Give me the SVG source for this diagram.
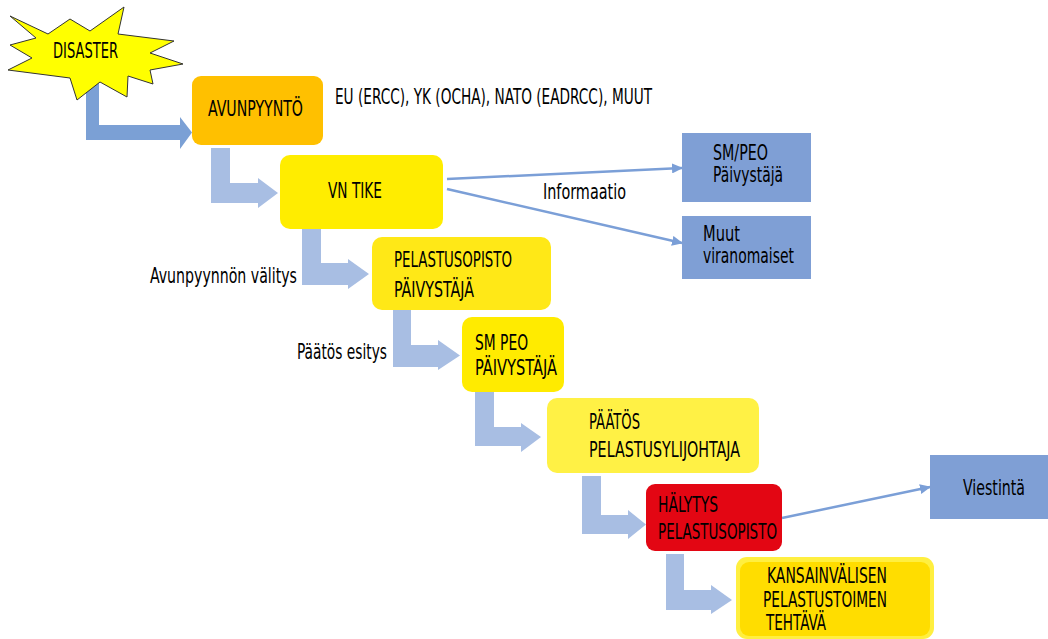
<svg xmlns="http://www.w3.org/2000/svg" width="1048" height="639" viewBox="0 0 1048 639">
<defs>
<style>
text{font-family:"Liberation Sans Narrow","DejaVu Sans Condensed","Liberation Sans",sans-serif;font-size:21px;fill:#000;}
.bl{fill:#7F9FD5;}
.ar1{fill:#7BA0D5;}
.ar{fill:#A8BEE3;}
.ln{stroke:#7B9FD7;stroke-width:2.5;fill:none;marker-end:url(#ah);}
</style>
<marker id="ah" markerUnits="userSpaceOnUse" markerWidth="11" markerHeight="10" refX="10" refY="5" orient="auto">
<path d="M0,0 L11,5 L0,10 Z" fill="#7B9FD7"/>
</marker>
</defs>
<rect width="1048" height="639" fill="#fff"/>

<g id="connectors">
<polygon class="ar1" points="86,82 99,82 99,125 180,125 180,117 192,132.5 180,149 180,140 86,140"/>
<polygon class="ar" points="211,148 230,148 230,183 258,183 258,178 278,193 258,208 258,203 211,203"/>
<polygon class="ar" points="302,229 321,229 321,263 348,263 348,259 369,274 348,289 348,285 302,285"/>
<polygon class="ar" points="393,310 411,310 411,345 438,345 438,340 460,355.5 438,370 438,367 393,367"/>
<polygon class="ar" points="475,392 494,392 494,427 521,427 521,423 541,437 521,452 521,446 475,446"/>
<polygon class="ar" points="582,476 601,476 601,515 628,515 628,510 646,524.5 628,539 628,534 582,534"/>
<polygon class="ar" points="666,554 684,554 684,590 711,590 711,585 732,600 711,614 711,610 666,610"/>
<line class="ln" x1="447" y1="179" x2="682" y2="168"/>
<line class="ln" x1="447" y1="189" x2="682" y2="243"/>
<line class="ln" x1="782" y1="518" x2="930" y2="487"/>
<text x="543" y="199" textLength="83" lengthAdjust="spacingAndGlyphs">Informaatio</text>
<text x="150" y="283" textLength="147" lengthAdjust="spacingAndGlyphs">Avunpyynnön välitys</text>
<text x="297" y="359" textLength="90" lengthAdjust="spacingAndGlyphs">Päätös esitys</text>
</g>

<g id="disaster">
<polygon points="10,16 48,34 70,19 90,31 124,7 118,34 174,41 150,53 183,64 150,70 153,84 128,76 127,97 100,82 77,100 70,78 8,70 32,58 10,45 36,38" fill="#FFFF00" stroke="#333" stroke-width="1"/>
<text x="53" y="58" textLength="65" lengthAdjust="spacingAndGlyphs">DISASTER</text>
</g>

<g id="avunpyynto">
<rect x="192" y="76" width="131" height="69" rx="9" fill="#FFC000"/>
<text x="208" y="116" textLength="95" lengthAdjust="spacingAndGlyphs">AVUNPYYNTÖ</text>
</g>

<g id="eu-label">
<text x="335" y="104" textLength="317" lengthAdjust="spacingAndGlyphs">EU (ERCC), YK (OCHA), NATO (EADRCC), MUUT</text>
</g>

<g id="vntike">
<rect x="280" y="155" width="163" height="74" rx="10" fill="#FFED00"/>
<text x="328" y="198" textLength="54" lengthAdjust="spacingAndGlyphs">VN TIKE</text>
</g>

<g id="smpeo-info">
<rect class="bl" x="682" y="133" width="129" height="69"/>
<text x="713" y="160" textLength="55" lengthAdjust="spacingAndGlyphs">SM/PEO</text>
<text x="713" y="182" textLength="70" lengthAdjust="spacingAndGlyphs">Päivystäjä</text>
</g>

<g id="muut">
<rect class="bl" x="682" y="216" width="129" height="63"/>
<text x="703" y="241" textLength="37" lengthAdjust="spacingAndGlyphs">Muut</text>
<text x="703" y="263" textLength="91" lengthAdjust="spacingAndGlyphs">viranomaiset</text>
</g>

<g id="pelastusopisto-paivystaja">
<rect x="372" y="237" width="179" height="73" rx="10" fill="#FFE817"/>
<text x="394" y="267" textLength="118" lengthAdjust="spacingAndGlyphs">PELASTUSOPISTO</text>
<text x="394" y="297" textLength="80" lengthAdjust="spacingAndGlyphs">PÄIVYSTÄJÄ</text>
</g>

<g id="smpeo-paivystaja">
<rect x="462" y="317" width="102" height="75" rx="10" fill="#FFEB00"/>
<text x="475" y="350" textLength="53" lengthAdjust="spacingAndGlyphs">SM PEO</text>
<text x="475" y="375" textLength="82" lengthAdjust="spacingAndGlyphs">PÄIVYSTÄJÄ</text>
</g>

<g id="paatos">
<rect x="547" y="398" width="212" height="75" rx="10" fill="#FFF145"/>
<text x="589" y="429" textLength="51" lengthAdjust="spacingAndGlyphs">PÄÄTÖS</text>
<text x="589" y="457" textLength="151" lengthAdjust="spacingAndGlyphs">PELASTUSYLIJOHTAJA</text>
</g>

<g id="halytys">
<rect x="646" y="484" width="136" height="67" rx="9" fill="#E30613"/>
<text x="658" y="512" textLength="60" lengthAdjust="spacingAndGlyphs">HÄLYTYS</text>
<text x="658" y="539" textLength="119" lengthAdjust="spacingAndGlyphs">PELASTUSOPISTO</text>
</g>

<g id="viestinta">
<rect class="bl" x="930" y="455" width="118" height="64"/>
<text x="963" y="495" textLength="62" lengthAdjust="spacingAndGlyphs">Viestintä</text>
</g>

<g id="kansainvalisen">
<rect x="736" y="557" width="198" height="82" rx="11" fill="#FFEF40"/>
<rect x="740" y="562" width="190" height="74" rx="9" fill="#FFDD00"/>
<text x="767" y="583" textLength="120" lengthAdjust="spacingAndGlyphs">KANSAINVÄLISEN</text>
<text x="763" y="607" textLength="124" lengthAdjust="spacingAndGlyphs">PELASTUSTOIMEN</text>
<text x="766" y="630" textLength="60" lengthAdjust="spacingAndGlyphs">TEHTÄVÄ</text>
</g>
</svg>
